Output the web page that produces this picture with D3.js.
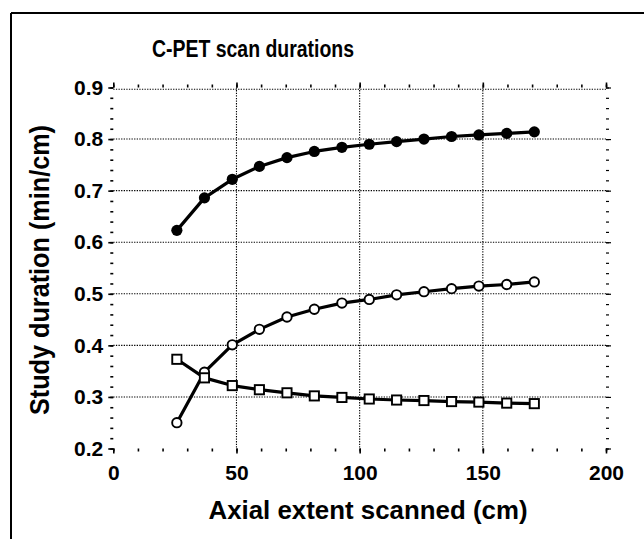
<!DOCTYPE html>
<html>
<head>
<meta charset="utf-8">
<script src="https://cdn.jsdelivr.net/npm/d3@7"></script>
<style>
  html, body { margin: 0; padding: 0; background: #fff; }
  svg { display: block; }
  text { font-family: "Liberation Sans", Arial, sans-serif; font-weight: bold; fill: #000; }
</style>
</head>
<body>
<svg id="chart" width="644" height="539"></svg>
<script>
// ---- data ----
const axialExtent = [25.8, 37.0, 48.3, 59.3, 70.5, 81.6, 92.8, 103.9, 115.0, 126.1, 137.3, 148.4, 159.7, 170.9];
const seriesFilled = [0.623, 0.686, 0.722, 0.747, 0.764, 0.776, 0.784, 0.790, 0.795, 0.800, 0.805, 0.808, 0.811, 0.814];
const seriesOpen   = [0.250, 0.348, 0.401, 0.431, 0.455, 0.470, 0.482, 0.489, 0.498, 0.504, 0.510, 0.515, 0.518, 0.523];
const seriesSquare = [0.373, 0.337, 0.322, 0.314, 0.308, 0.302, 0.299, 0.296, 0.294, 0.293, 0.291, 0.290, 0.288, 0.287];
const xTicks = [0, 50, 100, 150, 200];
const yTicks = [0.2, 0.3, 0.4, 0.5, 0.6, 0.7, 0.8, 0.9];
const titleText = "C-PET scan durations";
const xLabel = "Axial extent scanned (cm)";
const yLabel = "Study duration (min/cm)";

// ---- layout ----
const svg = d3.select("#chart");
const L = 113.3, R = 606, T = 87.5, B = 448.5;
const x = d3.scaleLinear().domain([0, 200]).range([L, R]);
const y = d3.scaleLinear().domain([0.2, 0.9]).range([B, T]);

// frame (top and left edges)
svg.append("line").attr("x1", 11).attr("x2", 644).attr("y1", 13).attr("y2", 13)
  .attr("stroke", "#000").attr("stroke-width", 2);
svg.append("line").attr("x1", 11).attr("x2", 11).attr("y1", 13).attr("y2", 539)
  .attr("stroke", "#000").attr("stroke-width", 2);

// gridlines
const grid = svg.append("g").attr("stroke", "#000").attr("stroke-width", 1.1).attr("stroke-dasharray", "1.3,1.3");
xTicks.filter(d => d > 0 && d < 200).forEach(d => {
  grid.append("line").attr("x1", x(d)).attr("x2", x(d)).attr("y1", T).attr("y2", B);
});
yTicks.filter(d => d > 0.2).forEach(d => {
  const yy = y(d) + (d === 0.9 ? 1.8 : 0);
  grid.append("line").attr("x1", L).attr("x2", R).attr("y1", yy).attr("y2", yy);
});

const minorX = d3.range(0, 201, 10);
const minorY = d3.range(0.2, 0.9001, 0.02);

// bottom axis
const gB = svg.append("g").attr("transform", `translate(0,${B})`)
  .call(d3.axisBottom(x).tickValues(xTicks).tickSize(5).tickPadding(12).tickFormat(d3.format("d")));
gB.append("g").call(d3.axisBottom(x).tickValues(minorX).tickSize(3).tickFormat(""));
// left axis
const gL = svg.append("g").attr("transform", `translate(${L},0)`)
  .call(d3.axisLeft(y).tickValues(yTicks).tickSize(5).tickPadding(5).tickFormat(d3.format(".1f")));
gL.append("g").call(d3.axisLeft(y).tickValues(minorY).tickSize(3).tickFormat(""));
// top axis
const gT = svg.append("g").attr("transform", `translate(0,${T})`)
  .call(d3.axisTop(x).tickValues(xTicks).tickSize(5).tickFormat(""));
gT.append("g").call(d3.axisTop(x).tickValues(minorX).tickSize(3).tickFormat(""));
// right axis
const gR = svg.append("g").attr("transform", `translate(${R},0)`)
  .call(d3.axisRight(y).tickValues(yTicks).tickSize(5).tickFormat(""));
gR.append("g").call(d3.axisRight(y).tickValues(minorY).tickSize(3).tickFormat(""));

[gB, gL, gT].forEach(g => {
  g.selectAll(".domain").attr("stroke", "#000").attr("stroke-width", 2.4);
  g.selectAll(".tick line").attr("stroke", "#000").attr("stroke-width", 1.6);
  g.selectAll("g .domain").remove();
});
gR.selectAll(".domain").attr("stroke", "#000").attr("stroke-width", 1.2).attr("stroke-dasharray", "1.3,1.3");
gR.selectAll("g .domain").remove();
gR.selectAll(".tick line").attr("stroke", "#000").attr("stroke-width", 1.2);
gB.select(".domain").attr("d", `M${L},0H${R}`);
gT.select(".domain").attr("d", `M${L},0H${R}`);
gL.select(".domain").attr("d", `M0,${B}V${T}`);
gR.select(".domain").attr("d", `M0,${B}V${T}`);

svg.selectAll(".tick text").style("font-family", "'Liberation Sans', Arial, sans-serif")
  .style("font-weight", "bold").style("font-size", "21px").attr("fill", "#000");

// lines
const line = d3.line().x((d, i) => x(axialExtent[i])).y(d => y(d));
[seriesFilled, seriesOpen, seriesSquare].forEach(s => {
  svg.append("path").datum(s).attr("d", line).attr("fill", "none")
    .attr("stroke", "#000").attr("stroke-width", 3.2).attr("stroke-linejoin", "round");
});

// markers
svg.append("g").selectAll("circle").data(seriesFilled).join("circle")
  .attr("cx", (d, i) => x(axialExtent[i])).attr("cy", d => y(d)).attr("r", 5.6)
  .attr("fill", "#000");
svg.append("g").selectAll("circle").data(seriesOpen).join("circle")
  .attr("cx", (d, i) => x(axialExtent[i])).attr("cy", d => y(d)).attr("r", 4.7)
  .attr("fill", "#fff").attr("stroke", "#000").attr("stroke-width", 1.9);
svg.append("g").selectAll("rect").data(seriesSquare).join("rect")
  .attr("x", (d, i) => x(axialExtent[i]) - 4.6).attr("y", d => y(d) - 4.6)
  .attr("width", 9.2).attr("height", 9.2)
  .attr("fill", "#fff").attr("stroke", "#000").attr("stroke-width", 1.9);

// texts
svg.append("text").attr("x", 253).attr("y", 57).attr("text-anchor", "middle")
  .style("font-size", "23px").attr("textLength", 202).attr("lengthAdjust", "spacingAndGlyphs")
  .text(titleText);
svg.append("text").attr("x", 368).attr("y", 519).attr("text-anchor", "middle")
  .style("font-size", "26px").attr("textLength", 319).attr("lengthAdjust", "spacingAndGlyphs")
  .text(xLabel);
svg.append("text").attr("transform", `translate(49,270) rotate(-90)`)
  .attr("text-anchor", "middle").style("font-size", "27px")
  .attr("textLength", 290).attr("lengthAdjust", "spacingAndGlyphs").text(yLabel);
</script>
</body>
</html>
